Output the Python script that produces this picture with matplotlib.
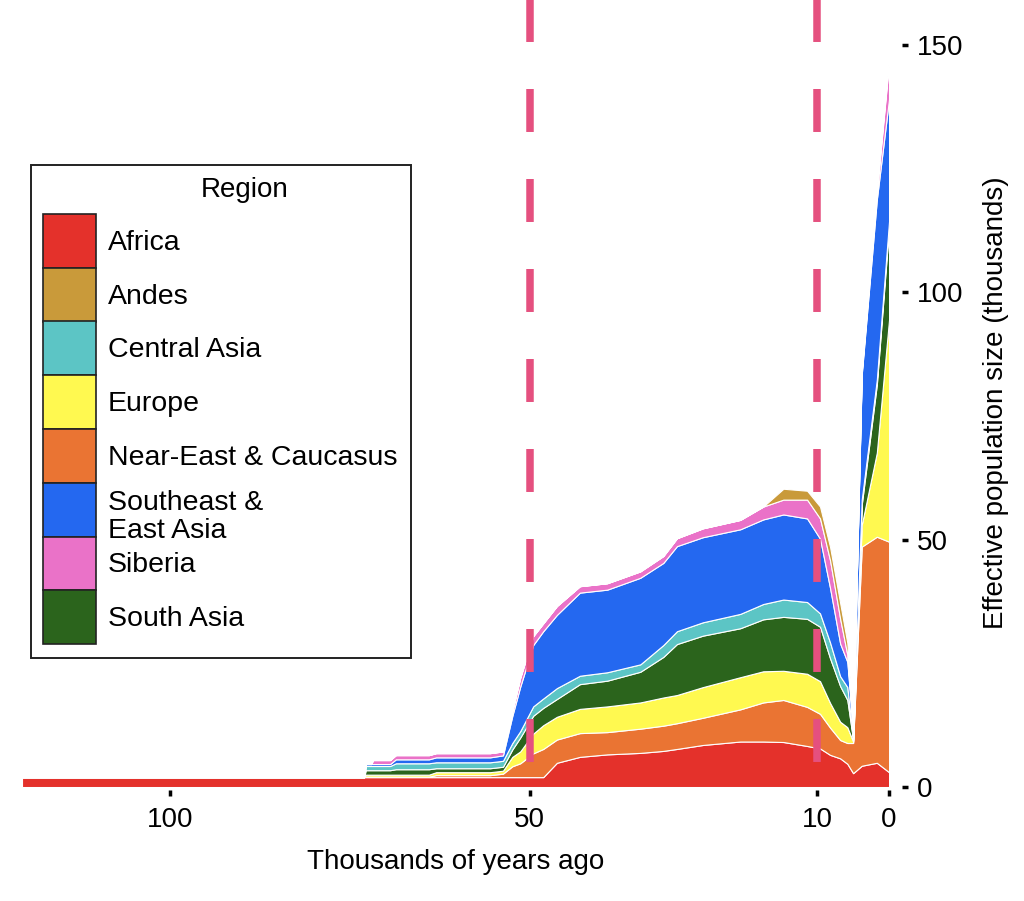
import matplotlib
matplotlib.use('Agg')
import matplotlib.pyplot as plt
from matplotlib.patches import Rectangle

plt.rcParams['font.family'] = ['Liberation Sans', 'DejaVu Sans']

# time axis, thousands of years ago
kya = [120.6, 73.0, 72.8, 72.0, 71.8, 69.4, 68.6, 64.0, 63.0, 55.5, 53.7, 52.4,
       51.3, 49.5, 48.1, 46.2, 43.0, 39.2, 34.6, 31.4, 29.5, 25.9, 20.7, 17.5,
       14.7, 11.4, 9.6, 8.2, 6.8, 5.8, 5.0, 3.8, 1.7, 0.0]

# effective population size per region (thousands), stacked bottom -> top
africa = [2.0, 2.0, 2.0, 2.0, 2.0, 2.0, 2.0, 2.0, 2.0, 2.0, 2.0, 2.0,
          2.0, 2.0, 2.0, 4.9, 6.1, 6.6, 6.9, 7.3, 7.7, 8.5, 9.2, 9.2,
          9.1, 8.3, 7.8, 6.5, 5.8, 4.7, 2.8, 4.3, 4.9, 3.0]
near_east = [0, 0, 0.1, 0.1, 0.1, 0.1, 0.1, 0.1, 0.4, 0.4, 0.7, 2.2,
             2.8, 4.8, 5.7, 4.7, 4.8, 4.5, 4.9, 5.1, 5.2, 5.5, 6.5, 7.9,
             8.5, 7.9, 7.0, 5.5, 3.7, 4.2, 6.1, 44.3, 45.7, 46.6]
europe = [0, 0, 0.4, 0.4, 0.4, 0.4, 0.4, 0.4, 0.6, 0.6, 0.6, 1.9,
          2.4, 4.0, 4.8, 4.6, 4.9, 5.2, 5.3, 5.7, 5.7, 6.2, 6.5, 6.3,
          5.9, 6.7, 6.6, 5.0, 3.7, 3.2, 0.3, 4.4, 17.0, 44.9]
south_asia = [0, 0, 0.9, 0.9, 0.9, 0.9, 1.1, 1.1, 0.8, 0.8, 0.8, 1.5,
              2.8, 3.6, 3.5, 3.6, 5.0, 5.2, 6.2, 8.2, 10.3, 10.4, 9.9, 10.5,
              10.9, 11.1, 11.0, 9.0, 7.2, 5.5, 0.3, 4.1, 13.8, 18.7]
central_asia = [0, 0, 0.85, 0.85, 0.85, 0.85, 1.2, 1.2, 1.2, 1.2, 1.2, 1.3,
                1.3, 1.9, 1.9, 2.2, 1.7, 1.7, 1.5, 2.4, 2.6, 2.7, 2.9, 3.1,
                3.5, 3.4, 2.7, 3.2, 2.0, 2.6, 0.2, 1.0, 1.0, 1.2]
se_asia = [0, 0, 0.4, 0.4, 0.4, 0.4, 0.8, 0.8, 1.0, 1.0, 1.1, 5.5,
           9.0, 12.4, 13.6, 14.8, 16.8, 16.7, 17.5, 16.6, 17.2, 17.2, 17.1, 17.1,
           17.2, 16.9, 15.1, 11.0, 6.6, 5.1, 1.5, 25.3, 36.4, 24.7]
siberia = [0, 0, 0, 0, 0.8, 0.8, 0.85, 0.85, 0.85, 0.85, 0.8, 1.0,
           1.8, 1.8, 1.6, 1.8, 1.3, 1.3, 1.3, 1.4, 1.6, 1.8, 1.9, 2.6,
           3.0, 3.8, 4.1, 5.6, 5.0, 1.4, 0.2, 0.6, 1.6, 7.5]
andes = [0, 0, 0, 0, 0, 0, 0, 0, 0, 0, 0, 0,
         0, 0, 0, 0, 0, 0, 0, 0, 0, 0, 0, 0,
         2.2, 1.8, 2.4, 2.7, 3.2, 2.4, 0.2, 0.4, 0.5, 0.6]

stack_colors = ['#E4312B', '#EA7433', '#FFF950', '#2B641C',
                '#5CC5C5', '#2468F0', '#EA72C8', '#C99A3A']

legend_names = ['Africa', 'Andes', 'Central Asia', 'Europe',
                'Near-East & Caucasus', 'Southeast &\nEast Asia', 'Siberia', 'South Asia']
legend_colors = ['#E4312B', '#C99A3A', '#5CC5C5', '#FFF950',
                 '#EA7433', '#2468F0', '#EA72C8', '#2B641C']

dashed_at = [50, 10]
xticks = [100, 50, 10, 0]
yticks = [0, 50, 100, 150]

W, H = 1024, 901
fig = plt.figure(figsize=(W / 100, H / 100), dpi=100)
ax = fig.add_axes([22 / W, 1 - 790 / H, 880 / W, 790 / H])

ax.stackplot(kya, africa, near_east, europe, south_asia, central_asia,
             se_asia, siberia, andes, colors=stack_colors,
             edgecolor='white', linewidth=0.8)

for x in dashed_at:
    ax.plot([x, x], [160.1, -2.4], color='#E5507F', lw=5.4,
            linestyle=(0, (5.73, 6.27)), solid_capstyle='butt',
            clip_on=False, zorder=5)

ax.set_xlim(120.6, -1.8)
ax.set_ylim(-0.6, 159.1)
ax.set_xticks(xticks)
ax.set_yticks(yticks)
for s in ax.spines.values():
    s.set_visible(False)
ax.yaxis.tick_right()
ax.tick_params(axis='x', length=4.5, width=2.5, pad=8, labelsize=20)
ax.tick_params(axis='y', length=4.5, width=2.5, pad=6, labelsize=20)

fig.text(456 / W, 1 - 862 / H, 'Thousands of years ago', ha='center', va='center', fontsize=20)
fig.text(996 / W, 1 - 403 / H, 'Effective population size (thousands)',
         ha='center', va='center', rotation=90, fontsize=20)

# legend box
fig.add_artist(Rectangle((31 / W, 1 - 658 / H), 380 / W, 493 / H, transform=fig.transFigure,
                         fill=False, edgecolor='#222222', lw=1.4))
fig.text(245 / W, 1 - 190 / H, 'Region', ha='center', va='center', fontsize=20)
row_h = 53.75
for i, (name, col) in enumerate(zip(legend_names, legend_colors)):
    top = 214 + row_h * i
    fig.add_artist(Rectangle((43 / W, 1 - (top + row_h) / H), 53 / W, row_h / H,
                             transform=fig.transFigure, facecolor=col,
                             edgecolor='#222222', lw=1.2))
    ty = top + row_h / 2 + 2 + (5 if '\n' in name else 0)
    fig.text(108 / W, 1 - ty / H, name, ha='left', va='center', fontsize=20.5,
             linespacing=1.1)

fig.savefig('out.png', dpi=100)
